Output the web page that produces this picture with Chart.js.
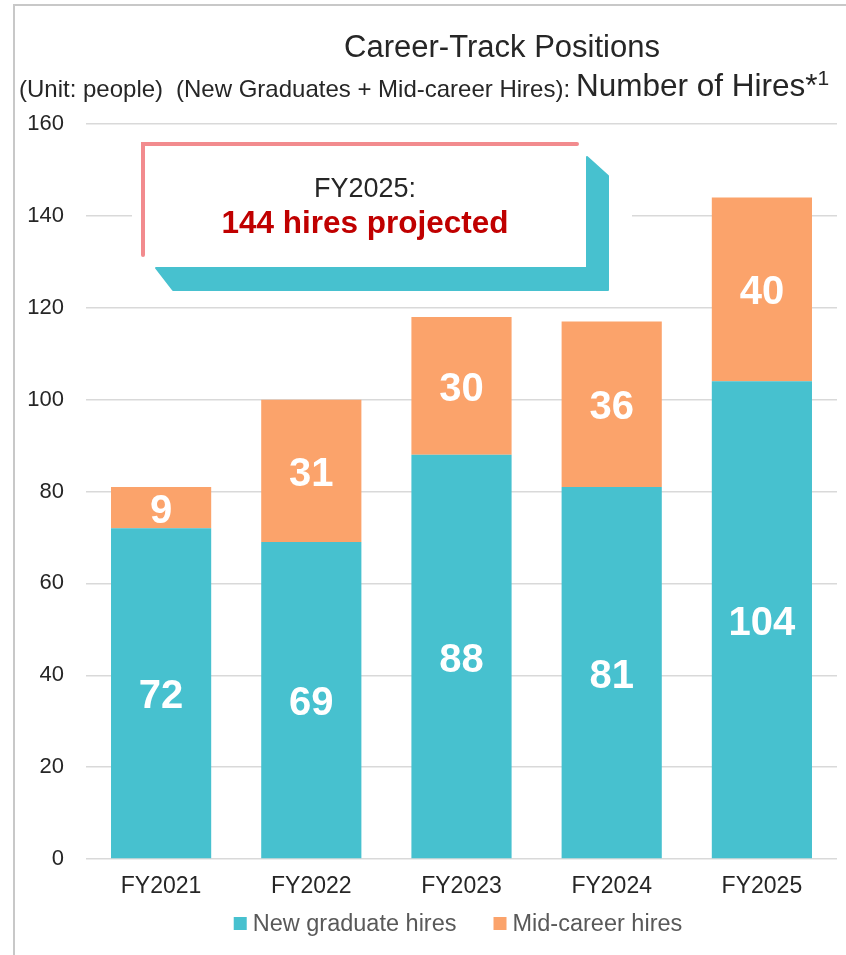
<!DOCTYPE html>
<html><head><meta charset="utf-8">
<script src="https://cdn.jsdelivr.net/npm/chart.js@4.4.1/dist/chart.umd.min.js"></script>
<style>
html,body{margin:0;padding:0;background:#fff;}
#wrap{position:relative;width:846px;height:955px;overflow:hidden;}
#frame{position:absolute;left:13px;top:4px;width:860px;height:980px;border-top:2px solid #c8c8c8;border-left:2px solid #c8c8c8;}
canvas{position:absolute;left:0;top:0;}
</style></head><body>
<div id="wrap"><div id="frame"></div><canvas id="c" width="846" height="955"></canvas></div>
<script>
const categories = ['FY2021', 'FY2022', 'FY2023', 'FY2024', 'FY2025'];
const newGraduateHires = [72, 69, 88, 81, 104];
const midCareerHires = [9, 31, 30, 36, 40];
const seriesNames = ['New graduate hires', 'Mid-career hires'];
const seriesColors = ['#47C1CF', '#FBA36B'];
const yMin = 0, yMax = 160, yStep = 20;
const titleLine1 = 'Career-Track Positions';
const unitText = '(Unit: people)';
const subText = '(New Graduates + Mid-career Hires):';
const mainText = 'Number of Hires';
const noteMark = '*';
const noteNum = '1';
const calloutLine1 = 'FY2025:';
const calloutLine2 = '144 hires projected';

const FONT = '"Liberation Sans", Arial, Helvetica, sans-serif';

const deco = {
  id: 'deco',
  beforeDatasetsDraw(chart) {
    const ctx = chart.ctx;
    ctx.save();
    ctx.fillStyle = '#ffffff';
    ctx.fillRect(132, 134, 500, 166);
    // teal shadow shape
    ctx.fillStyle = seriesColors[0];
    ctx.strokeStyle = seriesColors[0];
    ctx.lineJoin = 'round';
    ctx.lineWidth = 2;
    ctx.beginPath();
    ctx.moveTo(587, 157);
    ctx.lineTo(608, 176);
    ctx.lineTo(608, 290);
    ctx.lineTo(173, 290);
    ctx.lineTo(156, 268);
    ctx.lineTo(587, 268);
    ctx.closePath();
    ctx.fill();
    ctx.stroke();
    // pink frame
    ctx.strokeStyle = '#F28B8E';
    ctx.lineWidth = 4;
    ctx.lineCap = 'round';
    ctx.lineJoin = 'miter';
    ctx.beginPath();
    ctx.moveTo(143, 255);
    ctx.lineTo(143, 144);
    ctx.lineTo(577, 144);
    ctx.stroke();
    // callout text
    ctx.textAlign = 'center';
    ctx.textBaseline = 'alphabetic';
    ctx.fillStyle = '#262626';
    ctx.font = '27px ' + FONT;
    ctx.fillText(calloutLine1, 365, 197);
    ctx.fillStyle = '#C00000';
    ctx.font = 'bold 31.5px ' + FONT;
    ctx.fillText(calloutLine2, 365, 233);
    ctx.restore();
  },
  afterDatasetsDraw(chart) {
    const ctx = chart.ctx;
    ctx.save();
    ctx.fillStyle = '#ffffff';
    ctx.font = 'bold 40px ' + FONT;
    ctx.textAlign = 'center';
    ctx.textBaseline = 'middle';
    chart.data.datasets.forEach((ds, i) => {
      const meta = chart.getDatasetMeta(i);
      meta.data.forEach((bar, j) => {
        const cy = (bar.y + bar.base) / 2 + 4;
        ctx.fillText(String(ds.data[j]), bar.x, cy);
      });
    });
    ctx.restore();
  },
  afterDraw(chart) {
    const ctx = chart.ctx;
    ctx.save();
    ctx.textBaseline = 'alphabetic';
    ctx.fillStyle = '#262626';
    // title line 1
    ctx.textAlign = 'center';
    ctx.font = '31px ' + FONT;
    ctx.fillText(titleLine1, 502, 57);
    // line 2
    ctx.textAlign = 'left';
    ctx.font = '24px ' + FONT;
    ctx.fillText(unitText, 19, 97);
    ctx.fillText(subText, 176, 97);
    ctx.font = '31.5px ' + FONT;
    let x = 576;
    ctx.fillText(mainText, x, 96);
    x += ctx.measureText(mainText).width;
    ctx.fillText(noteMark, x, 96);
    x += ctx.measureText(noteMark).width;
    ctx.font = '21px ' + FONT;
    ctx.fillText(noteNum, x, 85);
    // legend
    ctx.font = '23.5px ' + FONT;
    const box = 13, gap = 6, itemGap = 37;
    const widths = seriesNames.map(n => ctx.measureText(n).width);
    let total = 0;
    widths.forEach((w, i) => { total += box + gap + w + (i < widths.length - 1 ? itemGap : 0); });
    let lx = 458 - total / 2;
    const ly = 924;
    seriesNames.forEach((n, i) => {
      ctx.fillStyle = chart.data.datasets[i].backgroundColor;
      ctx.fillRect(lx, ly - 7, box, box);
      ctx.fillStyle = '#595959';
      ctx.textBaseline = 'middle';
      ctx.fillText(n, lx + box + gap, ly + 1);
      lx += box + gap + widths[i] + itemGap;
    });
    ctx.restore();
  }
};

new Chart(document.getElementById('c'), {
  type: 'bar',
  data: {
    labels: categories,
    datasets: [
      { label: seriesNames[0], data: newGraduateHires, backgroundColor: seriesColors[0], barPercentage: 0.667, categoryPercentage: 1 },
      { label: seriesNames[1], data: midCareerHires, backgroundColor: seriesColors[1], barPercentage: 0.667, categoryPercentage: 1 }
    ]
  },
  options: {
    responsive: false,
    animation: false,
    devicePixelRatio: 1,
    layout: { padding: { top: 124, right: 9, bottom: 0, left: 0 } },
    plugins: { legend: { display: false }, title: { display: false }, tooltip: { enabled: false } },
    scales: {
      x: {
        stacked: true,
        grid: { display: false, drawTicks: false },
        border: { display: false },
        ticks: { font: { family: FONT, size: 23 }, color: '#262626', padding: 14 },
        afterFit(s) { s.height = 96; }
      },
      y: {
        stacked: true,
        min: yMin, max: yMax,
        ticks: { stepSize: yStep, font: { family: FONT, size: 22 }, color: '#262626', padding: 22 },
        grid: { color: '#d9d9d9', lineWidth: 1.5, drawTicks: false },
        border: { display: false },
        afterFit(s) { s.width = 86; }
      }
    }
  },
  plugins: [deco]
});
</script>
</body></html>
